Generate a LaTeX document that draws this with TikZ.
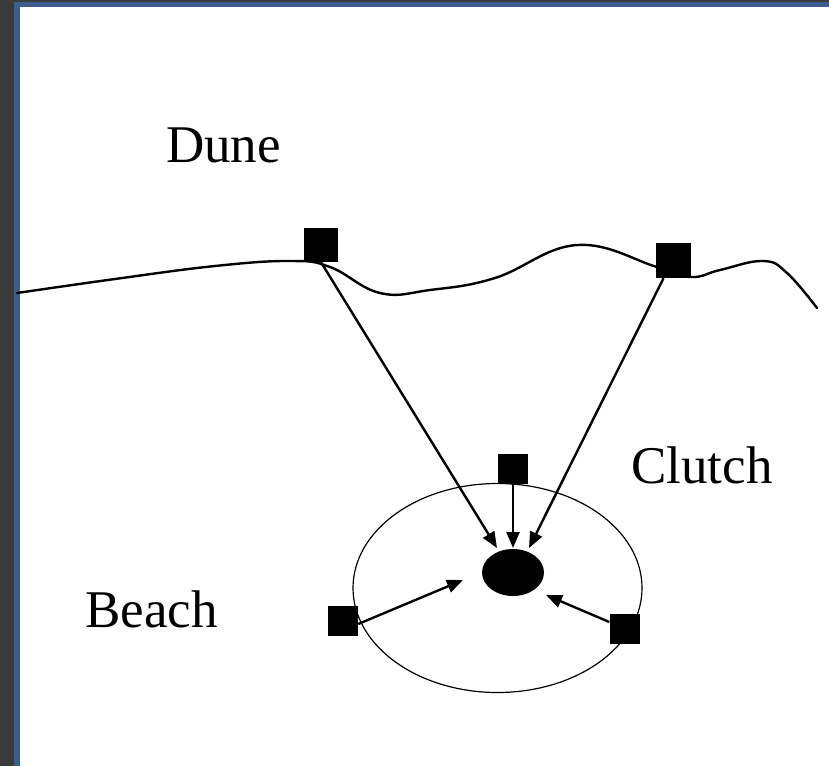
\documentclass[tikz,border=0pt]{standalone}
\usepackage{fontspec}
\setmainfont{Liberation Serif}
\usetikzlibrary{arrows.meta,shapes.geometric}
\definecolor{framegray}{HTML}{3B3B3B}
\definecolor{frameblue}{HTML}{3A5F8F}
\begin{document}
\begin{tikzpicture}[x=1pt,y=-1pt,
  sq/.style={fill=black,draw=none,inner sep=0pt,minimum size=#1},
  lbl/.style={anchor=base west,inner sep=0pt,font=\fontsize{53}{60}\selectfont},
  arr/.style={line width=2.4pt,-{Triangle[length=16pt,width=13pt]}}]
\useasboundingbox (0,0) rectangle (829,766);
\fill[framegray] (0,0) rectangle (829,766);
\fill[frameblue] (14,2) rectangle (829,766);
\fill[white] (20,7) rectangle (829,766);
% shoreline
\draw[line width=2.4pt,line cap=round] plot[smooth,tension=0.7] coordinates {
 (17,293) (115,279) (215,266) (290,261) (330,267) (380,293)
 (430,290) (495,278) (577,245) (657,267) (691,277)
 (720,270) (763,261) (787,273) (817,308)};
% clutch ellipse
\node[draw,line width=1.2pt,ellipse,minimum width=289pt,minimum height=209pt,inner sep=0pt] (clutch) at (497.5,588) {};
\node[fill=black,ellipse,minimum width=62pt,minimum height=47pt,inner sep=0pt] (egg) at (513,572.5) {};
% squares
\node[sq=34pt] (s1) at (321,245) {};
\node[sq=35pt] (s2) at (673.5,260.5) {};
\node[sq=30pt] (s3) at (513,469) {};
\node[sq=30pt] (s4) at (343,621) {};
\node[sq=30pt] (s5) at (624.5,629) {};
% arrow tips
\coordinate (t1) at (497,548);
\coordinate (t2) at (513,548);
\coordinate (t3) at (529,548);
\coordinate (t4) at (463,580);
\coordinate (t5) at (546,595);
\draw[arr] (s1.south) -- (t1);
\draw[arr] (s3.south) -- (t2);
\draw[arr] ([xshift=-10pt]s2.south) -- (t3);
\draw[arr] ([yshift=-3pt]s4.east) -- (t4);
\draw[arr] ([yshift=7pt]s5.west) -- (t5);
% labels
\node[lbl] (dune) at (166,162) {Dune};
\node[lbl] (clutchlbl) at (631,483) {Clutch};
\node[lbl] (beach) at (85,627) {Beach};
\end{tikzpicture}
\end{document}
